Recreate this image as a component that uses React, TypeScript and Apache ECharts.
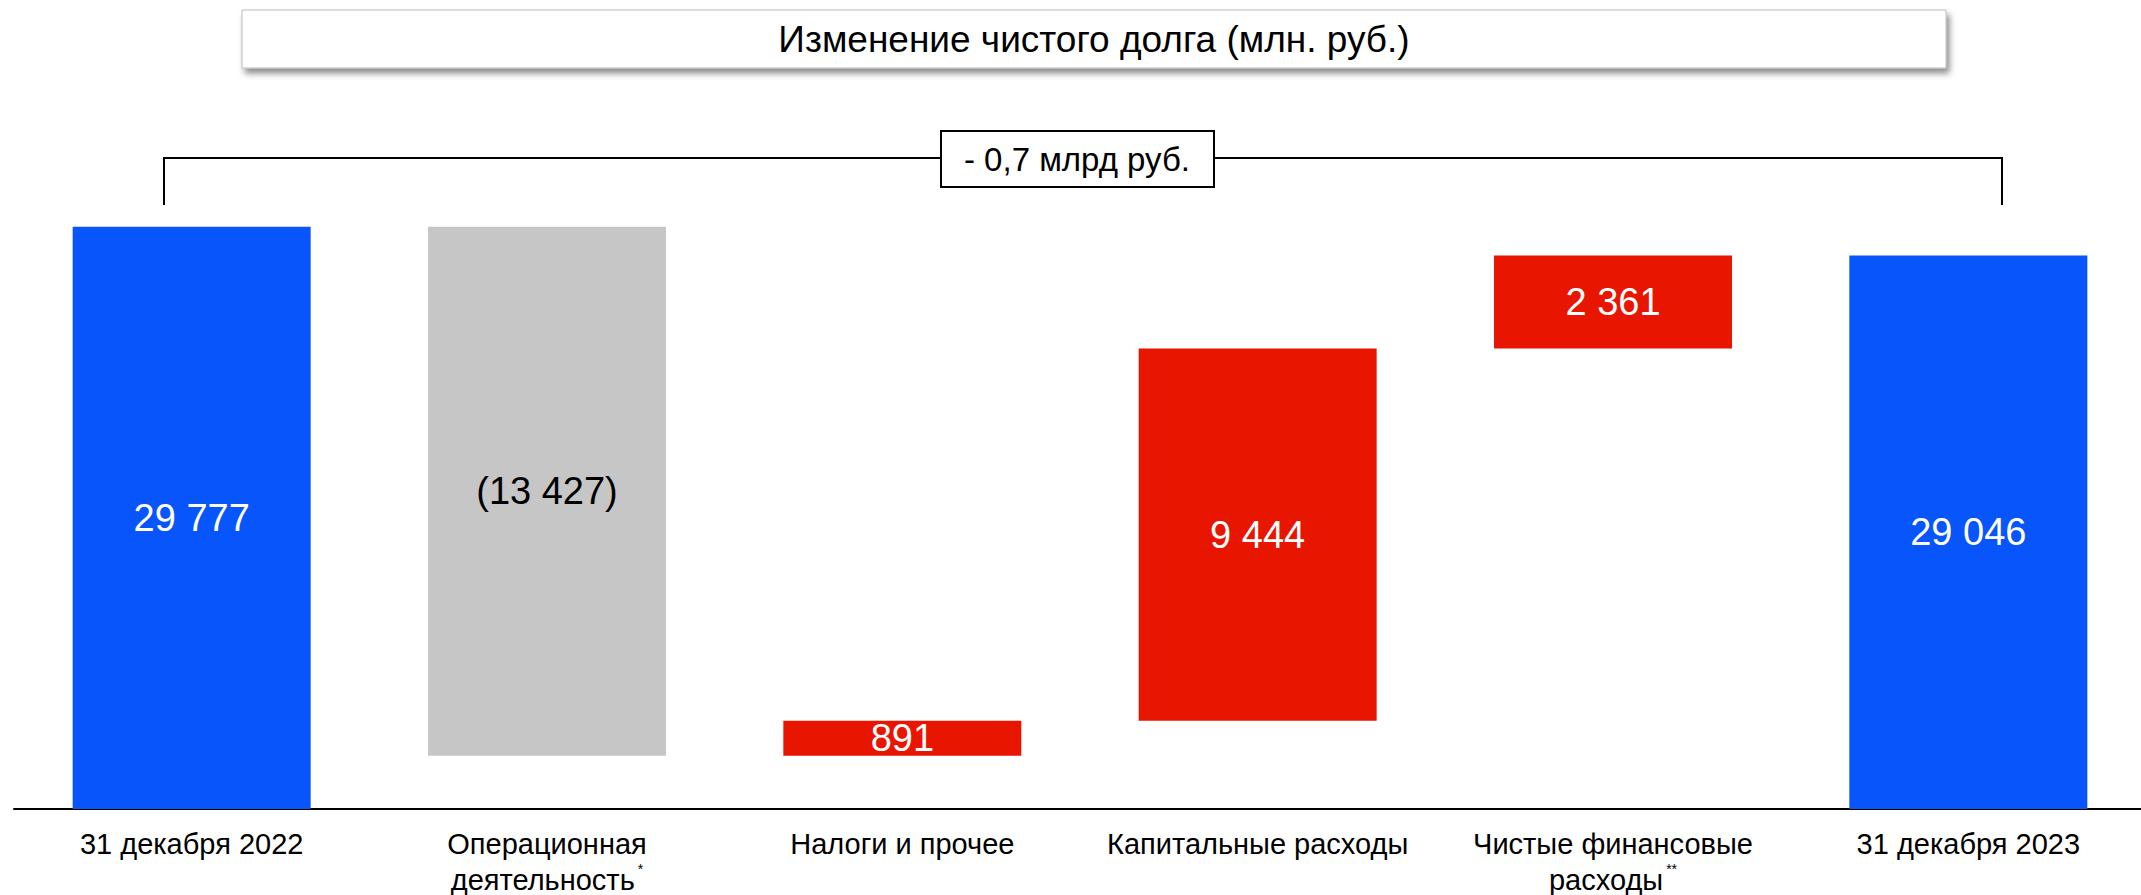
import React, { useEffect, useRef } from "react";
import * as echarts from "echarts";

const categories = [
  "31 декабря 2022",
  "Операционная\nдеятельность",
  "Налоги и прочее",
  "Капитальные расходы",
  "Чистые финансовые\nрасходы",
  "31 декабря 2023",
];
const footnotes = ["", "*", "", "", "**", ""];
const startValue = 29777;
const deltas = [-13427, 891, 9444, 2361];
const endValue = 29046;
const kinds = ["total", "decrease", "increase", "increase", "increase", "total"];
const titleText = "Изменение чистого долга (млн. руб.)";
const bracketText = "- 0,7 млрд руб.";

const BLUE = "#0755FB";
const GREY = "#C6C6C6";
const RED = "#E81600";
const FONT = "Arial, 'Liberation Sans', sans-serif";

function fmt(v: number): string {
  const s = Math.abs(v).toString().replace(/\B(?=(\d{3})+(?!\d))/g, " ");
  return v < 0 ? `(${s})` : s;
}

export default function App() {
  const ref = useRef<HTMLDivElement>(null);
  useEffect(() => {
    if (!ref.current) return;
    const chart = echarts.init(ref.current, null, { renderer: "svg" });

    const base: (number | string)[] = [];
    const vals: number[] = [];
    const shown: number[] = [];
    base.push("-");
    vals.push(startValue);
    shown.push(startValue);
    let run = startValue;
    deltas.forEach((d) => {
      const next = run + d;
      base.push(Math.min(run, next));
      vals.push(Math.abs(d));
      shown.push(d);
      run = next;
    });
    base.push("-");
    vals.push(endValue);
    shown.push(endValue);

    const colorOf = (k: string) => (k === "total" ? BLUE : k === "decrease" ? GREY : RED);

    chart.setOption({
      animation: false,
      grid: { left: 14, right: -5, top: 218, bottom: 86, outerBoundsMode: "none", containLabel: false },
      xAxis: {
        type: "category",
        data: categories,
        axisLine: { lineStyle: { color: "#000", width: 2 } },
        axisTick: { show: false },
        axisLabel: {
          interval: 0,
          margin: 17,
          formatter: (v: string, i: number) => {
            const lines = v.split("\n");
            return lines
              .map((l, j) =>
                j === lines.length - 1 && footnotes[i]
                  ? `{a|${l}}{sup|${footnotes[i]}}`
                  : `{a|${l}}`
              )
              .join("\n");
          },
          rich: {
            a: { fontSize: 29, fontFamily: FONT, color: "#000", lineHeight: 36 },
            sup: { fontSize: 14, fontFamily: FONT, color: "#000", verticalAlign: "top", padding: [0, 0, 14, 3] },
          },
        },
      },
      yAxis: { type: "value", min: 15000, max: 30000, show: false, splitLine: { show: false } },
      series: [
        {
          type: "bar",
          stack: "w",
          data: base,
          barWidth: 238,
          itemStyle: { color: "transparent" },
          silent: true,
        },
        {
          type: "bar",
          stack: "w",
          barWidth: 238,
          data: vals.map((v, i) => ({
            value: v,
            itemStyle: { color: colorOf(kinds[i]) },
            label: { color: kinds[i] === "decrease" ? "#000" : "#fff" },
          })),
          label: {
            show: true,
            position: "inside",
            fontSize: 38,
            fontFamily: FONT,
            formatter: (p: any) => fmt(shown[p.dataIndex]),
          },
        },
      ],
      graphic: [
        {
          type: "rect",
          shape: { x: 242, y: 10, width: 1704, height: 58 },
          style: {
            fill: "#fff",
            stroke: "#bbb",
            lineWidth: 1,
            shadowBlur: 6,
            shadowOffsetX: 3,
            shadowOffsetY: 5,
            shadowColor: "rgba(0,0,0,0.45)",
          },
        },
        {
          type: "text",
          x: 1094,
          y: 39,
          style: {
            text: titleText,
            fontSize: 37,
            fontFamily: FONT,
            fill: "#000",
            align: "center",
            verticalAlign: "middle",
          },
        },
        {
          type: "polyline",
          shape: { points: [[164, 205], [164, 158], [2002, 158], [2002, 205]] },
          style: { stroke: "#000", lineWidth: 2, fill: "none" },
        },
        {
          type: "rect",
          shape: { x: 941, y: 131, width: 273, height: 56 },
          style: { fill: "#fff", stroke: "#000", lineWidth: 2 },
        },
        {
          type: "text",
          x: 1077,
          y: 159,
          style: {
            text: bracketText,
            fontSize: 33,
            fontFamily: FONT,
            fill: "#000",
            align: "center",
            verticalAlign: "middle",
          },
        },
      ],
    });
    return () => chart.dispose();
  }, []);
  return (
    <div
      ref={ref}
      style={{ position: "absolute", left: 0, top: 0, width: 2141, height: 895, background: "#fff" }}
    />
  );
}
